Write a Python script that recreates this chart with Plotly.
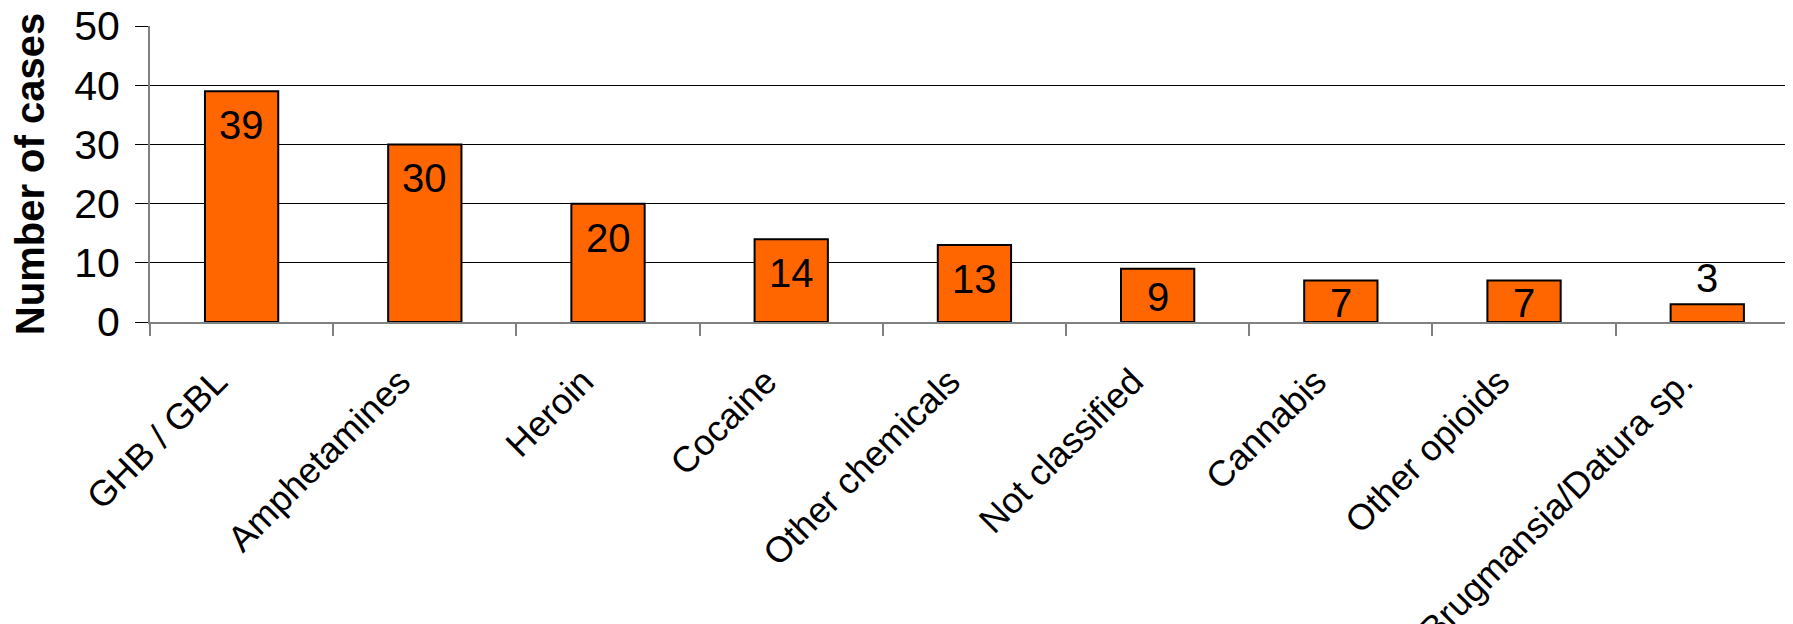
import plotly.graph_objects as go

categories = ["GHB / GBL", "Amphetamines", "Heroin", "Cocaine", "Other chemicals",
              "Not classified", "Cannabis", "Other opioids", "Brugmansia/Datura sp."]
cases = [39, 30, 20, 14, 13, 9, 7, 7, 3]
y_ticks = [0, 10, 20, 30, 40, 50]
outside_labels = ["Brugmansia/Datura sp."]

FONT = "Liberation Sans, Arial, sans-serif"
LABEL_SIZE = 40

W, H = 1785, 616
M = dict(l=142, r=0, t=18, b=302)
Y_MAX = 50
px_per_unit = (H - M["t"] - M["b"]) / Y_MAX
LABEL_BOX = 66  # px of bar needed to hold a top-anchored label

fig = go.Figure()
fig.add_trace(go.Bar(
    x=categories, y=cases, width=0.40,
    marker=dict(color="#FF6600", line=dict(color="#000000", width=2)),
    hoverinfo="x+y",
))

for c, v in zip(categories, cases):
    f = dict(family=FONT, size=LABEL_SIZE, color="#000000")
    if c in outside_labels:
        fig.add_annotation(x=c, y=v, text=str(v), showarrow=False,
                           yanchor="bottom", yshift=2, font=f)
    elif v * px_per_unit >= LABEL_BOX:
        fig.add_annotation(x=c, y=v, text=str(v), showarrow=False,
                           yanchor="top", yshift=-10, font=f)
    else:
        fig.add_annotation(x=c, y=v / 2, text=str(v), showarrow=False,
                           yanchor="middle", yshift=-2, font=f)

fig.update_layout(
    width=W, height=H,
    margin=M,
    paper_bgcolor="white", plot_bgcolor="white",
    showlegend=False,
    font=dict(family=FONT, color="#000000"),
)
fig.update_xaxes(
    range=[-0.5, 8.468], automargin=False,
    showline=True, linecolor="#808080", linewidth=2,
    ticks="outside", tickson="boundaries", ticklen=12, tickcolor="#808080", tickwidth=1.5,
    tickangle=-45, tickfont=dict(family=FONT, size=36, color="#000000"),
    ticklabelstandoff=22, ticklabelshift=-25, ticklabeloverflow="allow",
    showgrid=False,
)
fig.update_yaxes(
    range=[0, Y_MAX + 0.02], tickvals=y_ticks, automargin=False,
    showline=True, linecolor="#808080", linewidth=2,
    ticks="outside", ticklen=13, tickcolor="#000000", tickwidth=1.3,
    showgrid=True, gridcolor="#000000", gridwidth=1.3, zeroline=False,
    tickfont=dict(family=FONT, size=41, color="#000000"),
    ticklabelstandoff=7, ticklabeloverflow="allow",
    title=dict(text="<b>Number of cases</b>", font=dict(family=FONT, size=40, color="#000000"), standoff=20),
)

fig.write_html("out.html")
